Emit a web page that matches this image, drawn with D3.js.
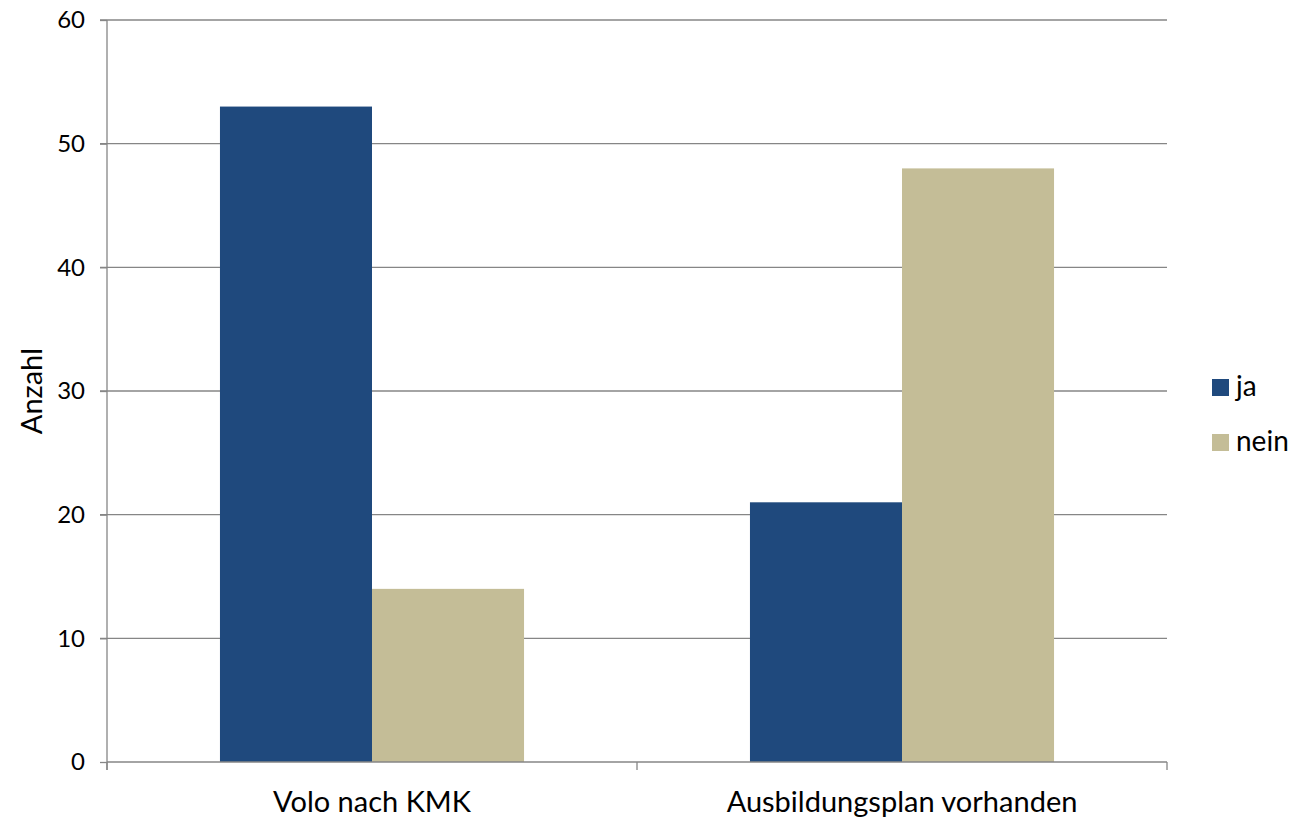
<!DOCTYPE html>
<html><head><meta charset="utf-8">
<script src="https://cdn.jsdelivr.net/npm/d3@7"></script>
<style>body{margin:0;background:#fff}svg{display:block;font-family:Lato,"Open Sans",sans-serif}</style>
</head><body>
<script>
const categories = ["Volo nach KMK", "Ausbildungsplan vorhanden"];
const seriesNames = ["ja", "nein"];
const jaValues = [53, 21];
const neinValues = [14, 48];
const yTicks = [0, 10, 20, 30, 40, 50, 60];
const colors = ["#1F497D", "#C4BD97"];

const W = 1299, H = 820;
const m = {left: 107, right: 132, top: 20, bottom: 58};
const svg = d3.select("body").append("svg").attr("width", W).attr("height", H);
const x0 = d3.scaleBand().domain(categories).range([m.left, W - m.right]).paddingInner(0).paddingOuter(0);
const x1 = d3.scaleBand().domain(seriesNames).range([0, x0.bandwidth()]).paddingInner(0).paddingOuter(0.743);
const y = d3.scaleLinear().domain([0, 60]).range([H - m.bottom, m.top]);
const grid = "#868686";

// gridlines
svg.append("g").selectAll("line").data(yTicks.filter(d => d > 0)).join("line")
  .attr("x1", m.left - 7).attr("x2", W - m.right)
  .attr("y1", d => y(d)).attr("y2", d => y(d))
  .attr("stroke", grid).attr("stroke-width", 1.3);

const data = categories.map((c, i) => ({cat: c, vals: [jaValues[i], neinValues[i]]}));
svg.append("g").selectAll("g").data(data).join("g")
  .attr("transform", d => `translate(${x0(d.cat)},0)`)
  .selectAll("rect").data(d => d.vals.map((v, j) => ({s: seriesNames[j], v, j}))).join("rect")
  .attr("x", d => x1(d.s)).attr("width", x1.bandwidth())
  .attr("y", d => y(d.v)).attr("height", d => y(0) - y(d.v))
  .attr("fill", d => colors[d.j]);

// y axis
const yAxis = svg.append("g").attr("transform", `translate(${m.left},0)`)
  .call(d3.axisLeft(y).tickValues(yTicks).tickSize(7).tickPadding(15).tickFormat(d3.format("d")));
yAxis.select(".domain").attr("stroke", grid).attr("stroke-width", 1.3).attr("d", `M0,${y(60)}V${y(0)+8}`);
yAxis.selectAll(".tick line").attr("stroke", grid).attr("stroke-width", 1.3);
yAxis.selectAll("text").attr("font-size", 24).attr("fill", "#000").attr("font-family", "Lato");

// x axis
const xAxis = svg.append("g").attr("transform", `translate(0,${y(0)})`)
  .call(d3.axisBottom(x0).tickSize(0));
xAxis.select(".domain").attr("stroke", grid).attr("stroke-width", 1.3).attr("d", `M${m.left},0H${W - m.right}`);
xAxis.selectAll("text").attr("font-size", 29).attr("fill", "#000").attr("font-family", "Lato")
  .attr("dy", null).attr("y", 50);
const bounds = [m.left, ...categories.map(c => x0(c) + x0.bandwidth())];
xAxis.append("g").selectAll("line").data(bounds).join("line")
  .attr("x1", d => d).attr("x2", d => d).attr("y1", 0).attr("y2", 8)
  .attr("stroke", grid).attr("stroke-width", 1.3);

// y title
svg.append("text").attr("transform", `translate(42,${(y(0)+y(60))/2}) rotate(-90)`)
  .attr("text-anchor", "middle").attr("font-size", 29).text("Anzahl");

// legend
const lg = svg.append("g").selectAll("g").data(seriesNames).join("g")
  .attr("transform", (d, i) => `translate(1212,${379 + i * 55})`);
lg.append("rect").attr("width", 17).attr("height", 17).attr("fill", (d, i) => colors[i]);
lg.append("text").attr("x", 24).attr("y", 17).attr("font-size", 28).text(d => d);
</script>
</body></html>
